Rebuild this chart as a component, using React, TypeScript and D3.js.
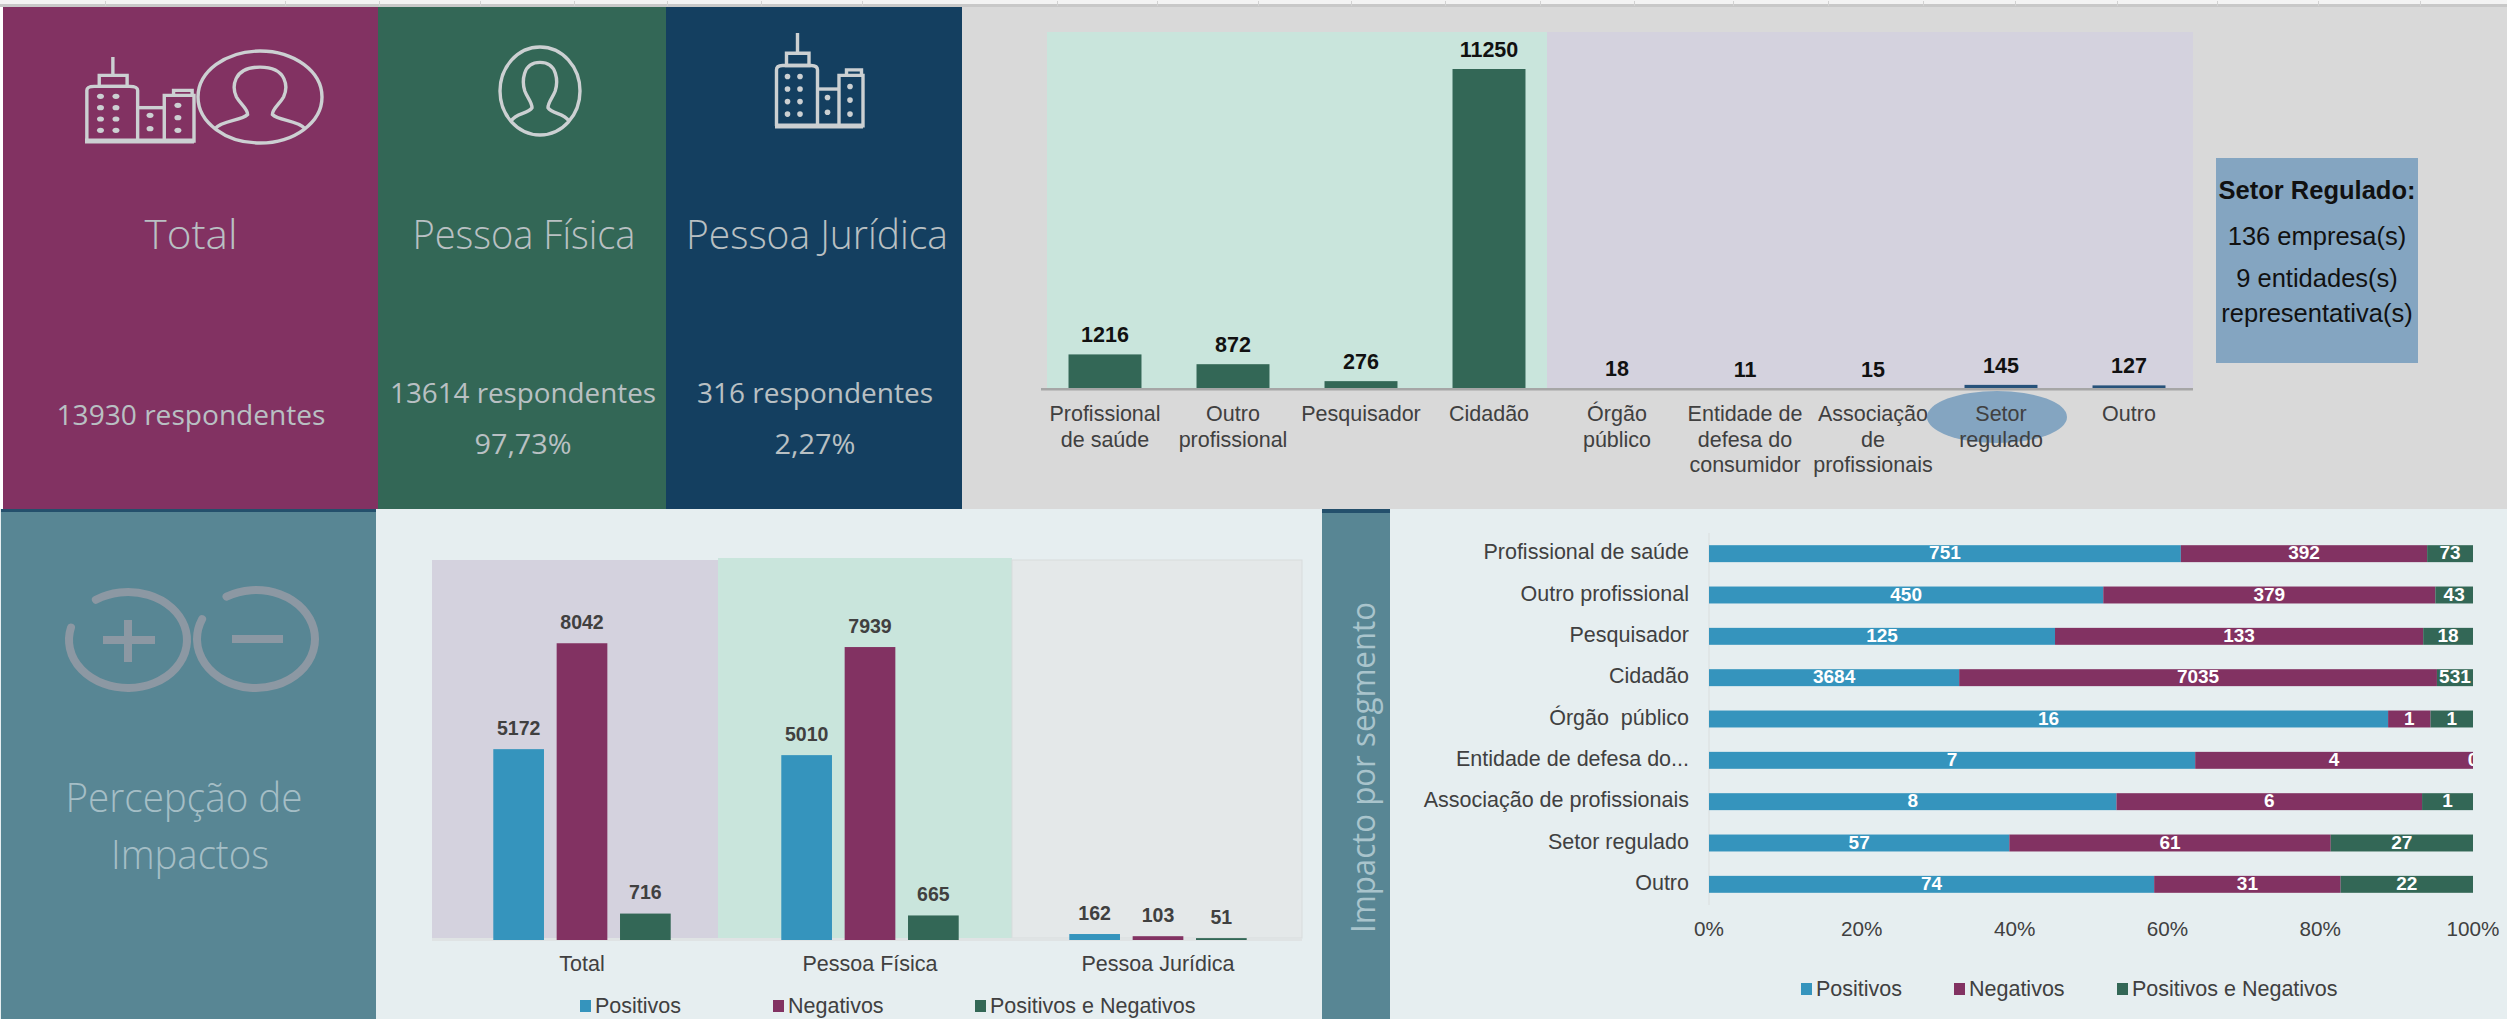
import React from "react";
import * as d3 from "d3";

const W = 2507, H = 1019;
const ARIAL = "'Liberation Sans', Arial, sans-serif";
const LIGHT = "'Open Sans', sans-serif";

// ---------- data ----------
const segmentLines = [
  ["Profissional", "de saúde"], ["Outro", "profissional"], ["Pesquisador"], ["Cidadão"],
  ["Órgão", "público"], ["Entidade de", "defesa do", "consumidor"], ["Associação", "de", "profissionais"],
  ["Setor", "regulado"], ["Outro"],
];
const segmentTotals = [1216, 872, 276, 11250, 18, 11, 15, 145, 127];
const groupNames = ["Total", "Pessoa Física", "Pessoa Jurídica"];
const positivos = [5172, 5010, 162];
const negativos = [8042, 7939, 103];
const ambos = [716, 665, 51];
const seriesNames = ["Positivos", "Negativos", "Positivos e Negativos"];
const impactCats = ["Profissional de saúde", "Outro profissional", "Pesquisador", "Cidadão", "Órgão  público", "Entidade de defesa do...", "Associação de profissionais", "Setor regulado", "Outro"];
const impactPos = [751, 450, 125, 3684, 16, 7, 8, 57, 74];
const impactNeg = [392, 379, 133, 7035, 1, 4, 6, 61, 31];
const impactBoth = [73, 43, 18, 531, 1, 0, 1, 27, 22];
const pctTicks = [0, 0.2, 0.4, 0.6, 0.8, 1];
const headerTicks = [105, 285, 379, 480, 574, 667, 761, 862, 1057, 1157, 1258, 1351, 1445, 1540, 1634, 1733, 1828, 1923, 2015, 2117, 2217, 2318, 2420];

// ---------- colours ----------
const C = {
  purple: "#823262", green: "#336756", navy: "#143f60", teal: "#588694", blue: "#3594bd",
  gray: "#d9d9d9", page: "#e6eef0", mint: "#c9e5dc", lav: "#d4d2de", pale: "#e4e8e9",
  steel: "#84a5c1", navyBar: "#27527a", panelText: "#b9c0c3", icon: "#ccd0d2",
};
const seriesColors = [C.blue, C.purple, C.green];

// ---------- scales ----------
const topX = d3.scaleBand<number>().domain(d3.range(segmentTotals.length)).range([1041, 2193]).paddingInner(0.43).paddingOuter(0.215);
const topY = d3.scaleLinear().domain([0, 11250]).range([389, 69]);

const lowX0 = d3.scaleBand<number>().domain(d3.range(groupNames.length)).range([438, 1302]).paddingInner(0.34).paddingOuter(0.17);
const lowX1 = d3.scaleBand<number>().domain([0, 1, 2]).range([0, lowX0.bandwidth()]).paddingInner(0.2).paddingOuter(0.1);
const lowY = d3.scaleLinear().domain([0, 10000]).range([940, 571]);
const lowSeries = [positivos, negativos, ambos];

const impX = d3.scaleLinear().domain([0, 1]).range([1709, 2473]);
const impY = d3.scaleBand<number>().domain(d3.range(impactCats.length)).range([533, 905]).paddingInner(0.59).paddingOuter(0.295);
const impRows = impactCats.map((_, i) => ({ i, pos: impactPos[i], neg: impactNeg[i], both: impactBoth[i] }));
const impStack = d3.stack<any>().keys(["pos", "neg", "both"]).offset(d3.stackOffsetExpand)(impRows);

// ---------- icons ----------
function Building({ x, y, w, h }: { x: number; y: number; w: number; h: number }) {
  const sx = d3.scaleLinear().domain([0, 176]).range([x, x + w]);
  const sy = d3.scaleLinear().domain([0, 255]).range([y, y + h]);
  const rect = (a: number, b: number, c: number, d: number) => `M${sx(a)},${sy(b)}H${sx(c)}V${sy(d)}H${sx(a)}Z`;
  const main = [25, 50].flatMap(u => [118, 152, 186, 220].map(v => [u, v]));
  const side = [[105, 175], [105, 215], [150, 145], [150, 182], [150, 220]];
  return (
    <g fill="none" stroke={C.icon} strokeWidth={3.4}>
      <path d={`M${sx(45)},${sy(0)}V${sy(55)}`} />
      <path d={rect(23, 55, 68, 88)} />
      <path d={`M${sx(3)},${sy(252)}V${sy(100)}Q${sx(3)},${sy(88)} ${sx(15)},${sy(88)}H${sx(72)}Q${sx(85)},${sy(88)} ${sx(85)},${sy(100)}V${sy(252)}`} />
      <path d={`M${sx(85)},${sy(152)}H${sx(128)}`} />
      <path d={rect(128, 115, 176, 252)} />
      <path d={`M${sx(143)},${sy(115)}V${sy(100)}H${sx(173)}V${sy(115)}`} />
      <path d={`M${sx(0)},${sy(252)}H${sx(176)}`} strokeWidth={5} />
      {main.concat(side).map(([u, v], k) => (
        <ellipse key={k} cx={sx(u)} cy={sy(v)} rx={w * 0.032} ry={h * 0.03} fill={C.icon} stroke="none" />
      ))}
    </g>
  );
}

function Person({ cx, cy, rx, ry }: { cx: number; cy: number; rx: number; ry: number }) {
  const u = (n: number) => cx + n * rx;
  const v = (n: number) => cy + n * ry;
  const d = `M${u(-0.72)},${v(0.68)}C${u(-0.6)},${v(0.5)} ${u(-0.3)},${v(0.52)} ${u(-0.2)},${v(0.38)}` +
    `C${u(-0.2)},${v(0.25)} ${u(-0.32)},${v(0.15)} ${u(-0.38)},${v(0)}` +
    `C${u(-0.45)},${v(-0.2)} ${u(-0.45)},${v(-0.65)} ${u(0)},${v(-0.65)}` +
    `C${u(0.45)},${v(-0.65)} ${u(0.45)},${v(-0.2)} ${u(0.38)},${v(0)}` +
    `C${u(0.32)},${v(0.15)} ${u(0.2)},${v(0.25)} ${u(0.2)},${v(0.38)}` +
    `C${u(0.3)},${v(0.52)} ${u(0.6)},${v(0.5)} ${u(0.72)},${v(0.68)}`;
  return (
    <g fill="none" stroke={C.icon} strokeWidth={3.4}>
      <ellipse cx={cx} cy={cy} rx={rx} ry={ry} />
      <path d={d} />
    </g>
  );
}

function GapRing({ cx, cy, rx, ry, from, to }: { cx: number; cy: number; rx: number; ry: number; from: number; to: number }) {
  const p = (deg: number) => [cx + rx * Math.cos((deg * Math.PI) / 180), cy + ry * Math.sin((deg * Math.PI) / 180)];
  const [x0, y0] = p(from);
  const [x1, y1] = p(to);
  return <path d={`M${x0},${y0}A${rx},${ry} 0 1 1 ${x1},${y1}`} fill="none" stroke="#8c98a3" strokeWidth={8} strokeLinecap="round" />;
}

function PanelText({ x, y, size, len, children, fill = C.panelText, weight = 300 }: any) {
  return (
    <text x={x} y={y - 1.5} textAnchor="middle" dominantBaseline="central" fontFamily={LIGHT} fontWeight={weight}
      fontSize={size} fill={fill} textLength={len} lengthAdjust="spacingAndGlyphs">{children}</text>
  );
}

function Legend({ y, marks }: { y: number; marks: number[] }) {
  return (
    <g fontFamily={ARIAL} fontSize={21.5} fill="#404040">
      {seriesNames.map((n, i) => (
        <g key={n}>
          <rect x={marks[i]} y={y - 6} width={11} height={12} fill={seriesColors[i]} />
          <text x={marks[i] + 15} y={y} dominantBaseline="central">{n}</text>
        </g>
      ))}
    </g>
  );
}

export default function App() {
  return (
    <svg width={W} height={H} viewBox={`0 0 ${W} ${H}`} style={{ position: "fixed", left: 0, top: 0, display: "block" }}>
      <defs>
        <clipPath id="impClip"><rect x={1709} y={520} width={764} height={400} /></clipPath>
      </defs>
      <rect width={W} height={H} fill="#ffffff" />
      {/* sheet header strip */}
      <rect width={W} height={5} fill="#f3f3f3" />
      <rect y={4} width={W} height={3} fill="#c8c8c8" />
      {headerTicks.map(t => <rect key={t} x={t} y={1} width={1} height={5} fill="#d2d2d2" />)}

      {/* top cards */}
      <rect x={3} y={7} width={375} height={502} fill={C.purple} />
      <rect x={378} y={7} width={288} height={502} fill={C.green} />
      <rect x={666} y={7} width={296} height={502} fill={C.navy} />
      <rect x={962} y={7} width={1545} height={502} fill={C.gray} />

      <Building x={85} y={57} w={109} h={85} />
      <Person cx={260} cy={97} rx={62} ry={46} />
      <Person cx={540} cy={91} rx={40} ry={44} />
      <Building x={775} y={33} w={88} h={94} />

      <PanelText x={191} y={235} size={40} len={93}>Total</PanelText>
      <PanelText x={524} y={235} size={40} len={223}>Pessoa Física</PanelText>
      <PanelText x={817} y={235} size={40} len={262}>Pessoa Jurídica</PanelText>
      <PanelText x={191} y={416} size={27} len={269} weight={400}>13930 respondentes</PanelText>
      <PanelText x={523} y={394} size={27} len={266} weight={400}>13614 respondentes</PanelText>
      <PanelText x={523} y={445} size={27} len={97} weight={400}>97,73%</PanelText>
      <PanelText x={815} y={394} size={27} len={236} weight={400}>316 respondentes</PanelText>
      <PanelText x={815} y={445} size={27} len={81} weight={400}>2,27%</PanelText>

      {/* top bar chart */}
      <rect x={1047} y={32} width={500} height={357} fill={C.mint} />
      <rect x={1547} y={32} width={646} height={357} fill={C.lav} />
      <ellipse cx={1997} cy={417} rx={70} ry={26} fill={C.steel} />
      {segmentTotals.map((v, i) => (
        <g key={i}>
          <rect x={topX(i)} y={topY(v)} width={topX.bandwidth()} height={389 - topY(v)} fill={i < 4 ? C.green : C.navyBar} />
          <text x={topX(i)! + topX.bandwidth() / 2} y={topY(v) - 12} textAnchor="middle" fontFamily={ARIAL}
            fontWeight={700} fontSize={21.5} fill="#111">{v}</text>
          {segmentLines[i].map((ln, k) => (
            <text key={k} x={topX(i)! + topX.bandwidth() / 2} y={414 + k * 25.5} textAnchor="middle" dominantBaseline="central"
              fontFamily={ARIAL} fontSize={21.5} fill="#404040">{ln}</text>
          ))}
        </g>
      ))}
      <rect x={1041} y={388} width={1152} height={2.5} fill="#a6a6a6" />

      {/* side box */}
      <rect x={2216} y={158} width={202} height={205} fill={C.steel} />
      <g fontFamily={ARIAL} fill="#111" textAnchor="middle" dominantBaseline="central">
        <text x={2317} y={190} fontWeight={700} fontSize={25.5}>Setor Regulado:</text>
        <text x={2317} y={236} fontSize={25.5}>136 empresa(s)</text>
        <text x={2317} y={278} fontSize={25.5}>9 entidades(s)</text>
        <text x={2317} y={313} fontSize={25.5}>representativa(s)</text>
      </g>

      {/* lower area */}
      <rect x={0} y={509} width={W} height={510} fill={C.page} />
      <rect x={1} y={509} width={375} height={510} fill={C.teal} />
      <rect x={1} y={509} width={375} height={3} fill="#24506c" />
      <rect x={1322} y={509} width={68} height={510} fill={C.teal} />
      <rect x={1322} y={509} width={68} height={4} fill="#24506c" />

      <GapRing cx={128} cy={640} rx={59} ry={48} from={-123} to={-165} />
      <GapRing cx={256} cy={639} rx={59} ry={49} from={-120} to={-156} />
      <path d="M103,640H155M128,620V662M232,639H283" fill="none" stroke="#8c98a3" strokeWidth={8} />
      <PanelText x={184} y={798} size={40} len={237} fill="#a5bec6">Percepção de</PanelText>
      <PanelText x={190} y={855} size={40} len={158} fill="#a5bec6">Impactos</PanelText>

      {/* grouped bars */}
      <rect x={432} y={560} width={286} height={378} fill={C.lav} />
      <rect x={718} y={558} width={294} height={380} fill={C.mint} />
      <rect x={1012} y={560} width={290} height={378} fill={C.pale} stroke="#d8dcdc" strokeWidth={1} />
      <rect x={432} y={938} width={870} height={3} fill="#dfe3e4" />
      {groupNames.map((g, i) => (
        <g key={g}>
          {lowSeries.map((s, k) => {
            const x = lowX0(i)! + lowX1(k)!;
            return (
              <g key={k}>
                <rect x={x} y={lowY(s[i])} width={lowX1.bandwidth()} height={940 - lowY(s[i])} fill={seriesColors[k]} />
                <text x={x + lowX1.bandwidth() / 2} y={lowY(s[i]) - 14.5} textAnchor="middle" fontFamily={ARIAL} fontWeight={700}
                  fontSize={19.5} fill="#404040">{s[i]}</text>
              </g>
            );
          })}
          <text x={lowX0(i)! + lowX0.bandwidth() / 2} y={964} textAnchor="middle" dominantBaseline="central"
            fontFamily={ARIAL} fontSize={21.5} fill="#404040">{g}</text>
        </g>
      ))}
      <Legend y={1006} marks={[580, 773, 975]} />

      {/* impact chart */}
      <text transform="translate(1362,767.5) rotate(-90)" textAnchor="middle" dominantBaseline="central" fontFamily={LIGHT}
        fontWeight={400} fontSize={33} fill="#a9c4cc" textLength={331} lengthAdjust="spacingAndGlyphs">Impacto por segmento</text>
      <rect x={1708.5} y={533} width={1} height={372} fill="#d9dddd" />
      {impStack.map((layer, k) => (
        <g key={layer.key}>
          {layer.map((d: any, i: number) => (
            <rect key={i} x={impX(d[0])} y={impY(i)} width={impX(d[1]) - impX(d[0])} height={impY.bandwidth()} fill={seriesColors[k]} />
          ))}
        </g>
      ))}
      <g clipPath="url(#impClip)">
        {impStack.map((layer, k) => layer.map((d: any, i: number) => (
          <text key={`${k}-${i}`} x={impX((d[0] + d[1]) / 2)} y={impY(i)! + impY.bandwidth() / 2 - 1} textAnchor="middle" dominantBaseline="central"
            fontFamily={ARIAL} fontWeight={700} fontSize={19} fill="#fff">{d.data[layer.key]}</text>
        )))}
      </g>
      {impactCats.map((c, i) => (
        <text key={i} x={1689} y={impY(i)! + impY.bandwidth() / 2 - 1.5} textAnchor="end" dominantBaseline="central"
          fontFamily={ARIAL} fontSize={21.5} fill="#404040" xmlSpace="preserve">{c}</text>
      ))}
      {pctTicks.map(t => (
        <text key={t} x={impX(t)} y={928} textAnchor="middle" dominantBaseline="central" fontFamily={ARIAL} fontSize={20.7} fill="#404040">{d3.format(".0%")(t)}</text>
      ))}
      <Legend y={989} marks={[1801, 1954, 2117]} />
    </svg>
  );
}
